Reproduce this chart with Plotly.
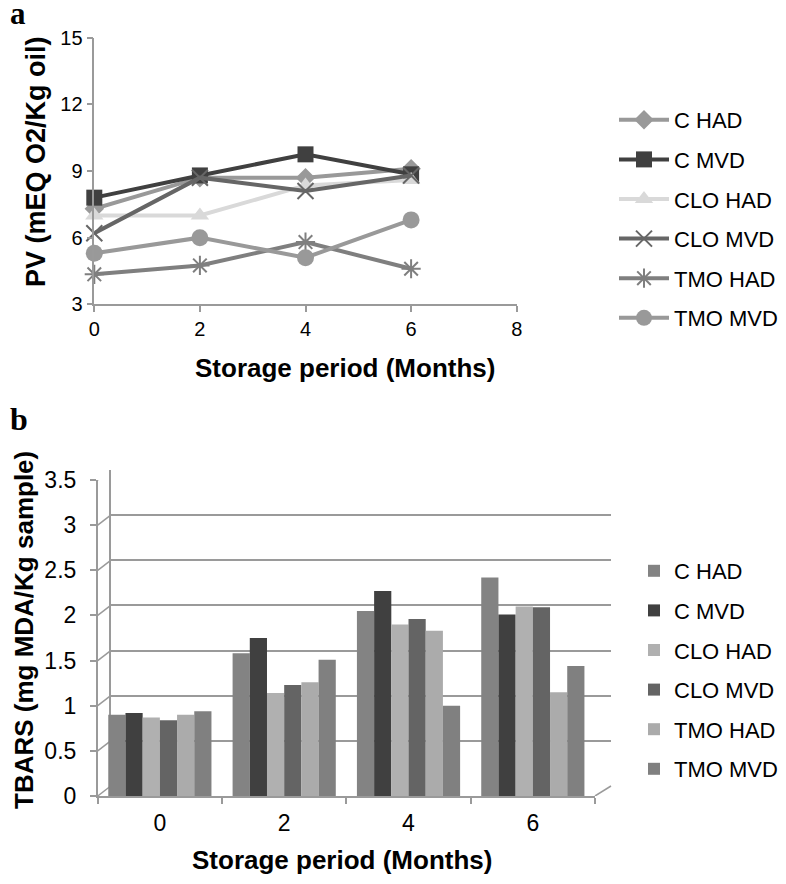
import plotly.graph_objects as go

# ---------------- data ----------------
months_a = [0, 2, 4, 6]
series_names = ["C HAD", "C MVD", "CLO HAD", "CLO MVD", "TMO HAD", "TMO MVD"]

pv_c_had = [7.3, 8.7, 8.7, 9.1]
pv_c_mvd = [7.8, 8.8, 9.75, 8.85]
pv_clo_had = [7.0, 7.0, 8.35, 8.6]
pv_clo_mvd = [6.2, 8.7, 8.1, 8.8]
pv_tmo_had = [4.35, 4.75, 5.8, 4.6]
pv_tmo_mvd = [5.3, 6.0, 5.1, 6.8]

months_b = ["0", "2", "4", "6"]
tb_c_had = [0.90, 1.58, 2.05, 2.42]
tb_c_mvd = [0.92, 1.75, 2.27, 2.01]
tb_clo_had = [0.87, 1.14, 1.90, 2.10]
tb_clo_mvd = [0.84, 1.23, 1.96, 2.09]
tb_tmo_had = [0.90, 1.26, 1.83, 1.15]
tb_tmo_mvd = [0.94, 1.51, 1.00, 1.44]

pv_ticks = [3, 6, 9, 12, 15]
tb_ticks = [0, 0.5, 1, 1.5, 2, 2.5, 3, 3.5]

# ---------------- styles ----------------
W, H = 786, 884          # target canvas
OFF = 8                  # page body margin
FW, FH = W - OFF, H - OFF
FONT = "Liberation Sans, Arial, sans-serif"
AX = "#9a9a9a"

line_colors = ["#999999", "#404040", "#d9d9d9", "#666666", "#7f7f7f", "#999999"]
line_symbols = ["diamond", "square", "triangle-up", "x-thin-open", "asterisk-open", "circle"]
line_sizes = [15, 16, 16, 16, 16, 17]
bar_colors = ["#838383", "#404040", "#b0b0b0", "#646464", "#ababab", "#808080"]

pv_data = [pv_c_had, pv_c_mvd, pv_clo_had, pv_clo_mvd, pv_tmo_had, pv_tmo_mvd]
tb_data = [tb_c_had, tb_c_mvd, tb_clo_had, tb_clo_mvd, tb_tmo_had, tb_tmo_mvd]

def px_x(p):
    return (p - OFF) / FW

def px_y(p):
    return 1 - (p - OFF) / FH

fig = go.Figure()

# ---- panel a: lines ----
for name, vals, col, sym, sz in zip(series_names, pv_data, line_colors, line_symbols, line_sizes):
    open_sym = sym.endswith("open")
    fig.add_trace(go.Scatter(
        x=months_a, y=vals, name=name, mode="lines+markers",
        line=dict(color=col, width=4),
        marker=dict(symbol=sym, size=sz, color=col,
                    line=dict(color=col, width=2 if open_sym else 0)),
        xaxis="x", yaxis="y", legend="legend", legendgroup=name,
        cliponaxis=False,
    ))

# ---- panel b: back wall grid (drawn first, below bars) ----
fig.add_trace(go.Scatter(x=[0], y=[0], mode="markers", marker=dict(opacity=0),
                         showlegend=False, hoverinfo="skip", xaxis="x3", yaxis="y3"))

# ---- panel b: bars ----
for name, vals, col in zip(series_names, tb_data, bar_colors):
    fig.add_trace(go.Bar(
        x=months_b, y=vals, name=name, marker=dict(color=col, line=dict(width=0)),
        xaxis="x4", yaxis="y4", legend="legend2", legendgroup=name + "b",
    ))

# geometry (pixels in target canvas)
a_x0, a_x1 = 94.3, 516.7
a_y0, a_y1 = 37.7, 304.3
b_x0, b_x1 = 97.7, 595.0
b_y_top, b_y_zero = 480.0, 796.0
depth_dx, depth_dy = 13.0, 10.0

tick_font_a = dict(family=FONT, size=20, color="#000000")
tick_font_b = dict(family=FONT, size=23, color="#000000")
title_font = dict(family=FONT, size=26, color="#000000")
legend_font = dict(family=FONT, size=22, color="#000000")

line_style = dict(automargin=False, showgrid=False, zeroline=False, showline=True,
                  linecolor=AX, linewidth=1.5, ticks="outside", ticklen=6, tickcolor=AX,
                  tickwidth=1.5)

fig.update_layout(
    template="none",
    width=FW, height=FH, margin=dict(l=0, r=0, t=0, b=0, pad=0, autoexpand=False),
    paper_bgcolor="white", plot_bgcolor="rgba(0,0,0,0)",
    barmode="group", bargap=0.17, bargroupgap=0.0,
    showlegend=True,
    xaxis=dict(domain=[px_x(a_x0), px_x(a_x1)], range=[0, 8], tickvals=[0, 2, 4, 6, 8],
               anchor="y", tickfont=tick_font_a, **line_style),
    yaxis=dict(domain=[px_y(a_y1), px_y(a_y0)], range=[3, 15], tickvals=pv_ticks,
               anchor="x", tickfont=tick_font_a, **line_style),
    # back wall
    xaxis3=dict(domain=[px_x(b_x0 + depth_dx), px_x(b_x1 + 16)], range=[0, 1],
                automargin=False, showgrid=False, zeroline=False, showline=False,
                showticklabels=False, ticks="", anchor="y3"),
    yaxis3=dict(domain=[px_y(b_y_zero - depth_dy), px_y(b_y_top - depth_dy)], range=[0, 3.5],
                tickvals=tb_ticks, automargin=False, showgrid=True, gridcolor=AX, gridwidth=1.5,
                zeroline=False, showline=True, linecolor=AX, linewidth=1.5,
                showticklabels=False, ticks="", anchor="x3"),
    # front (bars)
    xaxis4=dict(domain=[px_x(b_x0), px_x(b_x1)], type="category", tickson="boundaries",
                anchor="y4", tickfont=tick_font_b, ticklabelstandoff=6, **line_style),
    yaxis4=dict(domain=[px_y(b_y_zero), px_y(b_y_top)], range=[0, 3.5], tickvals=tb_ticks,
                anchor="x4", tickfont=tick_font_b, ticklabelstandoff=9, **line_style),
    legend=dict(x=px_x(614), y=px_y(99), xanchor="left", yanchor="top",
                font=legend_font, itemwidth=50,
                tracegroupgap=8, bgcolor="rgba(0,0,0,0)", borderwidth=0),
    legend2=dict(x=px_x(634), y=px_y(550), xanchor="left", yanchor="top",
                 font=legend_font,
                 tracegroupgap=8, bgcolor="rgba(0,0,0,0)", borderwidth=0),
)

# diagonal depth connectors from front y-axis ticks to back-wall gridlines
unit_px = (b_y_zero - b_y_top) / 3.5
shapes = []
for v in tb_ticks:
    shapes.append(dict(type="line", xref="paper", yref="y4",
                       x0=px_x(b_x0), x1=px_x(b_x0 + depth_dx),
                       y0=v, y1=v + depth_dy / unit_px,
                       line=dict(color=AX, width=1.5), layer="below"))
shapes.append(dict(type="line", xref="paper", yref="y4",
                   x0=px_x(b_x1), x1=px_x(b_x1 + 16), y0=0, y1=depth_dy / unit_px,
                   line=dict(color=AX, width=1.5), layer="below"))
fig.update_layout(shapes=shapes)

serif = "Liberation Serif, Times New Roman, serif"
annotations = [
    dict(text="<b>a</b>", x=px_x(OFF + 1), y=px_y(-5), xref="paper", yref="paper",
         xanchor="left", yanchor="top", showarrow=False, borderpad=0,
         font=dict(family=serif, size=31, color="#000")),
    dict(text="<b>b</b>", x=px_x(OFF + 1), y=px_y(400), xref="paper", yref="paper",
         xanchor="left", yanchor="top", showarrow=False, borderpad=0,
         font=dict(family=serif, size=32, color="#000")),
    dict(text="<b>Storage period (Months)</b>", x=px_x(345), y=px_y(368), xref="paper",
         yref="paper", xanchor="center", yanchor="middle", showarrow=False, font=title_font),
    dict(text="<b>PV (mEQ O2/Kg oil)</b>", x=px_x(36), y=px_y(162), xref="paper",
         yref="paper", xanchor="center", yanchor="middle", showarrow=False, textangle=-90,
         font=dict(family=FONT, size=27, color="#000")),
    dict(text="<b>Storage period (Months)</b>", x=px_x(342), y=px_y(860), xref="paper",
         yref="paper", xanchor="center", yanchor="middle", showarrow=False, font=title_font),
    dict(text="<b>TBARS (mg MDA/Kg sample)</b>", x=px_x(24), y=px_y(630), xref="paper",
         yref="paper", xanchor="center", yanchor="middle", showarrow=False, textangle=-90,
         borderpad=0, font=title_font),
]
fig.update_layout(annotations=annotations)

fig.write_html("out.html")
